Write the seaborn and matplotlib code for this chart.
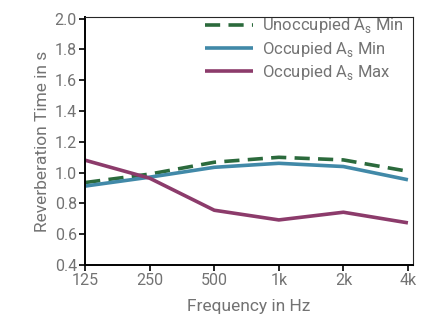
"""Reverberation time per octave band for occupied and unoccupied states."""

import pandas as pd
import seaborn as sns
import matplotlib.pyplot as plt


FREQ_LABELS = ['125', '250', '500', '1k', '2k', '4k']
UNOCCUPIED_MIN = [0.935, 0.99, 1.067, 1.099, 1.082, 1.008]
OCCUPIED_MIN = [0.912, 0.97, 1.034, 1.06, 1.039, 0.953]
OCCUPIED_MAX = [1.08, 0.963, 0.755, 0.692, 0.742, 0.673]

SERIES = {
    'Unoccupied A$_\\mathrm{s}$ Min': UNOCCUPIED_MIN,
    'Occupied A$_\\mathrm{s}$ Min': OCCUPIED_MIN,
    'Occupied A$_\\mathrm{s}$ Max': OCCUPIED_MAX,
}
COLORS = ['#2b6a3c', '#4189a8', '#8c3b6b']
TEXT_GREY = '#737373'
FONT = 'Roboto'


def main():
    sns.set_style('ticks')
    plt.rcParams['font.family'] = [FONT, 'DejaVu Sans']
    plt.rcParams['mathtext.fontset'] = 'custom'
    plt.rcParams['mathtext.rm'] = FONT

    rows = []
    for name, vals in SERIES.items():
        for i, v in enumerate(vals):
            rows.append({'series': name, 'idx': i, 'rt': v})
    df = pd.DataFrame(rows)

    fig, ax = plt.subplots(figsize = (4.39, 3.23), dpi = 100)
    fig.subplots_adjust(left = 0.194, right = 0.941, bottom = 0.18, top = 0.947)

    names = list(SERIES)
    sns.lineplot(
        data = df, x = 'idx', y = 'rt', hue = 'series', style = 'series',
        hue_order = names, style_order = names,
        palette = COLORS,
        dashes = {names[0]: (4.2, 2.3), names[1]: '', names[2]: ''},
        linewidth = 2.6, ax = ax,
    )
    for line in ax.get_lines():
        line.set_solid_capstyle('butt')
        line.set_dash_capstyle('butt')

    ax.set_xlim(0, 5.08)
    ax.set_ylim(0.4, 2.01)
    ax.set_xticks(range(len(FREQ_LABELS)))
    ax.set_xticklabels(FREQ_LABELS)
    ax.set_yticks([0.4 + 0.2 * k for k in range(9)])
    ax.set_yticklabels([f'{0.4 + 0.2 * k:.1f}' for k in range(9)])

    for side in ['left', 'bottom']:
        ax.spines[side].set_linewidth(1.4)
        ax.spines[side].set_color('black')
    ax.tick_params(axis = 'both', length = 4, width = 1.2, color = 'black',
                   labelsize = 11.5, labelcolor = TEXT_GREY, pad = 2)

    ax.set_xlabel('Frequency in Hz', fontsize = 12.5, color = TEXT_GREY, labelpad = 8)
    ax.set_ylabel('Reverberation Time in s', fontsize = 12.5, color = TEXT_GREY, labelpad = 3)

    leg = ax.legend(loc = 'upper left', frameon = False, fontsize = 12,
                    handlelength = 2.9, handletextpad = 0.5, labelspacing = 0.25,
                    bbox_to_anchor = (0.345, 1.03), borderaxespad = 0.0)
    for text in leg.get_texts():
        text.set_color(TEXT_GREY)

    fig.savefig('out.png', dpi = 100)
    plt.close(fig)


if __name__ == '__main__':
    main()
